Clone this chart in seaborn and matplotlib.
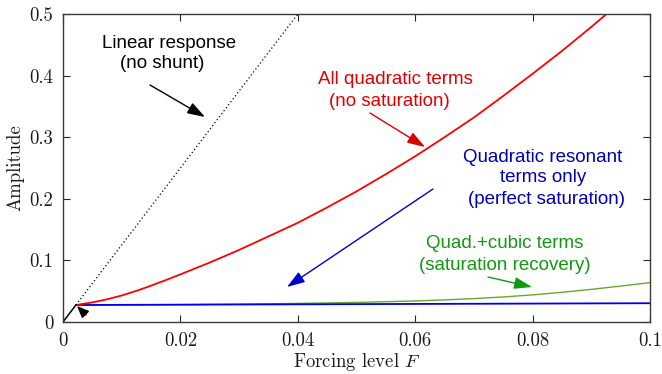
import numpy as np
import pandas as pd
import matplotlib
matplotlib.use("Agg")
import matplotlib.pyplot as plt
import seaborn as sns

# ---- data ----
lin_solid_F = [0.0, 0.0022]
lin_solid_A = [0.0, 0.0276]
lin_dot_F = [0.0022, 0.0400]
lin_dot_A = [0.0276, 0.5000]

red_F = [0.0022, 0.005, 0.0075, 0.010, 0.0125, 0.015, 0.0175, 0.020, 0.025, 0.030, 0.035, 0.040,
         0.045, 0.050, 0.055, 0.060, 0.065, 0.070, 0.075, 0.080, 0.085, 0.090, 0.0926]
red_A = [0.0276, 0.0318, 0.0368, 0.0430, 0.0505, 0.0590, 0.0680, 0.0773, 0.0965, 0.117, 0.139, 0.161,
         0.186, 0.212, 0.240, 0.269, 0.300, 0.332, 0.367, 0.403, 0.440, 0.479, 0.500]

blue_F = [0.0022, 0.050, 0.100]
blue_A = [0.0276, 0.0290, 0.0305]

green_F = [0.0022, 0.020, 0.030, 0.040, 0.045, 0.050, 0.055, 0.060, 0.065, 0.070, 0.075,
           0.080, 0.085, 0.090, 0.095, 0.100]
green_A = [0.0276, 0.0282, 0.0290, 0.0302, 0.0310, 0.0318, 0.0329, 0.0342, 0.0359, 0.0380, 0.0407,
           0.0440, 0.0482, 0.0530, 0.0583, 0.0640]

xticks = [0, 0.02, 0.04, 0.06, 0.08, 0.1]
xtick_labels = ["0", "0.02", "0.04", "0.06", "0.08", "0.1"]
yticks = [0, 0.1, 0.2, 0.3, 0.4, 0.5]
ytick_labels = ["0", "0.1", "0.2", "0.3", "0.4", "0.5"]

sns.set_theme(style="ticks")
plt.rcParams["mathtext.fontset"] = "cm"
plt.rcParams["font.family"] = ["cmr10", "DejaVu Serif"]
plt.rcParams["axes.formatter.use_mathtext"] = True

fig = plt.figure(figsize=(6.62, 3.74), dpi=100)
ax = fig.add_axes([63/662, 52/374, 587/662, 308/374])

def df(F, A):
    return pd.DataFrame({"F": F, "A": A})

sns.lineplot(data=df(green_F, green_A), x="F", y="A", ax=ax, color="#6aa82c", lw=1.0)
sns.lineplot(data=df(blue_F, blue_A), x="F", y="A", ax=ax, color="#0000ee", lw=1.3)
sns.lineplot(data=df(red_F, red_A), x="F", y="A", ax=ax, color="#ff0000", lw=1.3)
sns.lineplot(data=df(lin_solid_F, lin_solid_A), x="F", y="A", ax=ax, color="black", lw=1.1)
sns.lineplot(data=df(lin_dot_F, lin_dot_A), x="F", y="A", ax=ax, color="black", lw=0.9, linestyle=(0, (1, 2)))

ax.set_xlim(0, 0.1)
ax.set_ylim(0, 0.5)
ax.set_xticks(xticks)
ax.set_xticklabels(xtick_labels)
ax.set_yticks(yticks)
ax.set_yticklabels(ytick_labels)
ax.tick_params(direction="in", length=5, width=0.8, top=True, right=True,
               labelsize=13.5, colors="#262626", pad=7)
for lab in ax.get_xticklabels() + ax.get_yticklabels():
    lab.set_color("#1a1a1a")
for s in ax.spines.values():
    s.set_visible(True)
    s.set_color("#3a3a3a")
    s.set_linewidth(1.0)
ax.set_xlabel("Forcing level $F$", fontsize=13.5, color="#1a1a1a", labelpad=1)
ax.set_ylabel("Amplitude", fontsize=13.5, color="#1a1a1a", labelpad=3.5)

sans = ["Liberation Sans", "DejaVu Sans"]

def px(x, y):
    return ((x - 63) / 5870.0, (322 - y) / 616.0)

def txt(x, y, s, c):
    ax.text(*px(x, y), s, color=c, fontsize=13.5, family=sans, ha="center", va="center")

txt(169, 43, "Linear response", "black")
txt(162, 64, "(no shunt)", "black")
txt(395, 80, "All quadratic terms", "#e00000")
txt(389, 101, "(no saturation)", "#e00000")
txt(543, 157, "Quadratic resonant", "#0000bb")
txt(543, 178, "terms only", "#0000bb")
txt(547, 199, "(perfect saturation)", "#0000bb")
txt(505, 243, "Quad.+cubic terms", "#119911")
txt(505, 265, "(saturation recovery)", "#119911")

def arr(x0, y0, x1, y1, c, lw=1.0, hw=0.3, hl=0.9):
    ax.annotate("", xy=px(x1, y1), xytext=px(x0, y0),
                arrowprops=dict(arrowstyle=f"-|>,head_length={hl},head_width={hw}",
                                color=c, lw=lw, shrinkA=0, shrinkB=0))

arr(150, 85, 205, 117, "black")
arr(370, 113, 425, 147, "#dd0000")
arr(433, 189, 287, 287, "#0000cc")
arr(488, 277, 532, 287, "#119911")
arr(86, 315, 77, 306, "black", hl=0.6, hw=0.25)

fig.savefig("out.png", dpi=100)
